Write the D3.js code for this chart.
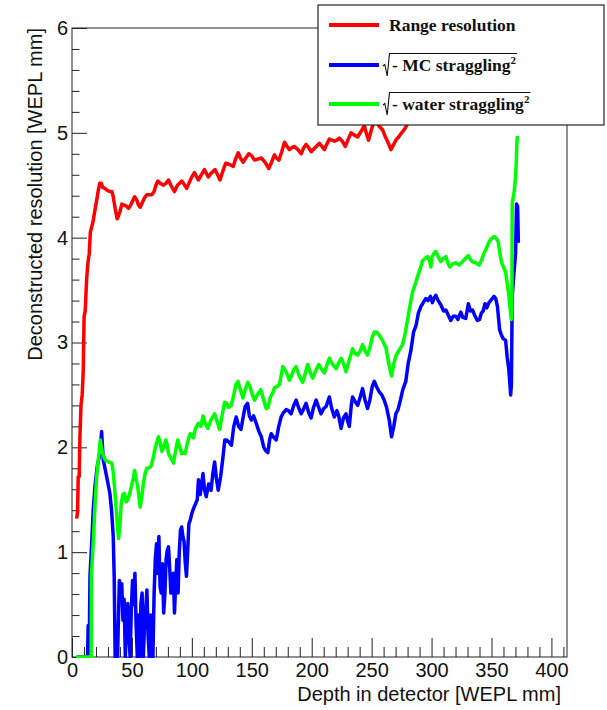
<!DOCTYPE html>
<html>
<head>
<meta charset="utf-8">
<script src="https://cdn.jsdelivr.net/npm/d3@7"></script>
<style>
  body { margin: 0; background: #fff; }
  svg { display: block; }
</style>
</head>
<body>
<svg id="chart" width="607" height="710"></svg>
<script>
// Depth (WEPL mm) vs. deconstructed resolution (WEPL mm)
const rangeResolution = [
  [3.9,1.32],[4.6,1.38],[5.2,1.72],[6,1.72],[6.6,2.1],[7.5,2.4],[8.5,2.5],[9.4,2.74],[10.1,3.25],[11,3.3],
  [12.2,3.6],[13.2,3.75],[14.4,3.85],[15.3,4.05],[16.4,4.1],[17.5,4.15],[19.1,4.26],[20.5,4.35],[21.9,4.45],
  [23.2,4.52],[24.4,4.52],[25.5,4.48],[27.5,4.47],[29.5,4.45],[31.6,4.44],[33.3,4.44],[34.4,4.39],[36,4.28],
  [37.7,4.18],[38.5,4.2],[40,4.25],[41.6,4.32],[43.5,4.31],[45.5,4.3],[47.2,4.28],[49,4.31],[50.5,4.35],
  [52.2,4.39],[54,4.36],[55.5,4.31],[56.9,4.29],[58.5,4.33],[60.5,4.38],[62.4,4.41],[64.5,4.41],[66.6,4.41],
  [68.5,4.44],[70,4.5],[71.6,4.54],[73.5,4.52],[76.3,4.5],[78.5,4.52],[80.5,4.55],[82.5,4.5],[85.5,4.44],
  [88,4.5],[91.6,4.54],[93.5,4.51],[95.7,4.47],[98,4.53],[100,4.58],[102.1,4.62],[104,4.58],[105.4,4.55],
  [108,4.6],[110.4,4.65],[113.7,4.58],[116.5,4.62],[119.3,4.65],[121.5,4.6],[123.5,4.55],[126,4.64],
  [128.2,4.71],[131,4.7],[134.5,4.68],[136.5,4.75],[138.7,4.81],[140.5,4.76],[142.9,4.72],[145,4.76],
  [147.5,4.8],[150,4.78],[152.3,4.74],[155,4.75],[157.9,4.76],[161,4.72],[164.2,4.66],[166.5,4.72],
  [168.9,4.79],[170.5,4.76],[172.6,4.74],[175,4.82],[177.3,4.91],[179.5,4.87],[181.4,4.84],[183.5,4.86],
  [185.6,4.87],[188.5,4.84],[191.2,4.8],[193,4.85],[195.3,4.89],[197.5,4.86],[199.5,4.82],[203,4.86],
  [206.4,4.9],[208.5,4.87],[210.6,4.84],[212.5,4.89],[214.7,4.94],[216.8,4.93],[218.9,4.92],[221,4.93],
  [223.1,4.95],[225.5,4.92],[228,4.87],[230.5,4.94],[232.8,5.0],[235.5,4.98],[238.3,4.96],[241,5.01],
  [243.9,5.07],[245.5,5.0],[247.4,4.93],[249.8,5.03],[252.2,5.11],[254,5.1],[256.5,5.06],[259.1,5.03],
  [261.5,4.96],[264,4.9],[266.1,4.84],[268,4.88],[270.2,4.93],[272.5,4.96],[275,5.0],[277.2,5.03],
  [279.2,5.07],[281.3,5.11],[283.5,5.16],[285.5,5.2]
];

const mcStraggling = [
  [4,0],[13,0],[13.5,0.3],[14.3,0],[15,0.77],[16.4,1.08],[17.7,1.4],[19.1,1.62],[21.1,1.82],[23.3,1.94],
  [24.7,2.15],[26.1,1.88],[28.9,1.72],[31.6,1.56],[33,1.4],[34.4,1.15],[35.2,0.77],[36,0],[37,0.3],[38,0],
  [39.5,0.73],[40.5,0.6],[41.5,0.7],[42.5,0.35],[43.5,0.55],[44.5,0],[45.5,0.3],[46.5,0.51],[47.5,0.2],
  [48.5,0],[49.5,0.45],[50.5,0.73],[51.5,0.5],[52.5,0.8],[53.5,0.3],[54.5,0],[55.5,0.4],[56.5,0],
  [57.5,0.51],[58.5,0.61],[59.5,0],[60.5,0.3],[61.5,0.45],[62.5,0.64],[63.5,0.2],[64.5,0],[65.5,0.4],
  [66.5,0],[67.5,0],[68.5,0.6],[69.5,0.93],[70.5,1.08],[71.5,0.8],[72.5,1.15],[73.5,0.67],[74.5,0.61],
  [75.5,0.89],[76.5,0.42],[77.5,0.6],[78.5,0.93],[79.5,1.02],[80.5,1.05],[81.5,0.85],[82.5,0.61],
  [83.5,0.67],[84.5,0.8],[85.5,0.42],[86.5,0.7],[87.5,0.93],[88.5,0.61],[89.5,1.0],[90.5,1.21],
  [91.5,1.24],[92.5,1.15],[93.5,1.1],[94.5,0.9],[95.5,0.77],[96.5,1.0],[97.5,1.27],[98.5,1.3],[100,1.37],
  [101.5,1.42],[103,1.46],[104.5,1.5],[105.5,1.69],[107,1.55],[109.3,1.75],[110.5,1.6],[112,1.53],
  [114,1.65],[116,1.59],[117.5,1.75],[119,1.86],[120.5,1.7],[122,1.59],[124,1.72],[126,1.91],[127.5,2.07],
  [129,2.07],[131,2.05],[133,2.02],[135,2.2],[137,2.29],[139,2.2],[141,2.17],[143,2.3],[144.5,2.39],
  [146.5,2.42],[148,2.3],[149.6,2.26],[151.5,2.3],[153.7,2.23],[156,2.15],[158,2.1],[160,2.0],[161.5,1.97],
  [163.4,1.95],[165,2.08],[166.2,2.13],[168,2.1],[170.4,2.07],[172.5,2.2],[174.5,2.29],[176.5,2.33],
  [178.7,2.36],[180.5,2.35],[182.8,2.32],[185,2.4],[187,2.45],[189,2.38],[191.2,2.32],[193,2.36],
  [195.3,2.42],[197.5,2.33],[199.5,2.28],[201.5,2.38],[203.7,2.45],[205.8,2.38],[207.8,2.32],[210,2.37],
  [212,2.39],[214.7,2.48],[216.5,2.38],[218.9,2.29],[221,2.35],[222.5,2.3],[224.5,2.18],[226.5,2.28],
  [228.6,2.32],[230,2.25],[231.4,2.2],[233,2.4],[234.1,2.48],[236,2.44],[238.3,2.4],[240.5,2.48],
  [242.4,2.56],[244.5,2.45],[246.6,2.37],[248.5,2.45],[250.5,2.58],[252.2,2.63],[254,2.58],[256.3,2.53],
  [258.5,2.5],[260.5,2.45],[262.5,2.38],[264.7,2.26],[266.6,2.1],[268.5,2.2],[270.2,2.32],[272,2.36],
  [274,2.45],[276,2.55],[278.5,2.63],[280.5,2.8],[282.7,2.92],[285,3.1],[287,3.16],[289,3.28],[291,3.34],
  [293,3.38],[295.2,3.42],[297,3.4],[299,3.44],[300.7,3.38],[302,3.42],[303.5,3.45],[305.5,3.4],
  [307.7,3.36],[310,3.3],[311.9,3.31],[314,3.26],[316,3.21],[318,3.25],[320.2,3.25],[322,3.22],
  [324.4,3.29],[326,3.24],[328.5,3.23],[330.7,3.37],[332.5,3.3],[334.1,3.31],[336,3.26],[338.2,3.21],
  [340,3.22],[341.5,3.28],[343,3.3],[344.6,3.37],[346,3.33],[347.9,3.38],[350,3.41],[352.1,3.44],
  [353.5,3.42],[355,3.34],[356.8,3.12],[358,3.08],[359.5,3.04],[361.8,3.02],[363.1,2.86],[364.5,2.74],
  [366,2.5],[366.6,2.6],[367.3,3.44],[368.7,3.66],[370.1,3.85],[370.9,4.32],[371.8,4.3],[372.4,3.95]
];

const waterStraggling = [
  [3.5,0],[16,0],[16.2,0.77],[18,1.15],[19.4,1.5],[20.5,1.7],[21.6,1.85],[22.6,1.95],[23.6,2.07],[24.5,2.0],
  [25.5,1.94],[27.7,1.88],[30.5,1.86],[33.3,1.85],[34.5,1.75],[35.5,1.62],[37.5,1.31],[38.8,1.13],[40,1.25],
  [41.1,1.47],[42.5,1.55],[43.8,1.56],[45.2,1.48],[46.6,1.5],[48,1.55],[49.4,1.62],[51,1.7],[52.2,1.78],
  [53.5,1.7],[54.9,1.62],[56.9,1.43],[58.2,1.52],[59.6,1.66],[61,1.75],[62.4,1.8],[64,1.8],[66,1.82],
  [67.7,1.9],[69.4,1.99],[70.8,2.05],[72.1,2.1],[73.5,2.05],[74.9,1.96],[76.5,2.0],[78.2,2.07],[79.5,2.02],
  [80.5,1.94],[82.5,1.9],[84.6,1.85],[86.5,1.97],[88.2,2.07],[90,2.0],[91.6,1.94],[93,1.95],[94.3,1.94],
  [96.5,2.05],[98.5,2.13],[100,2.12],[101.3,2.09],[103,2.18],[105.4,2.23],[107.5,2.2],[109.3,2.3],
  [111.5,2.22],[113.4,2.18],[115.5,2.25],[117,2.28],[119,2.32],[121,2.25],[123.2,2.17],[125.5,2.32],
  [127.4,2.43],[129,2.42],[130.5,2.38],[132.9,2.4],[135,2.5],[136.8,2.6],[138.4,2.63],[140.5,2.55],
  [142.6,2.47],[144.5,2.55],[146.7,2.62],[148.5,2.58],[150.5,2.5],[152.3,2.45],[154.5,2.5],[157.5,2.55],
  [160,2.45],[162,2.37],[163.5,2.38],[165.5,2.48],[167.5,2.52],[169,2.57],[171,2.58],[173.1,2.6],
  [175.9,2.77],[178.7,2.72],[181.4,2.64],[183,2.68],[185,2.74],[187,2.77],[189,2.7],[190.5,2.66],
  [192.5,2.62],[194.5,2.7],[196.7,2.79],[198.5,2.72],[200.8,2.66],[203,2.72],[205.8,2.79],[208,2.75],
  [210.6,2.71],[212.5,2.78],[214.7,2.85],[217,2.8],[220.3,2.75],[222.3,2.8],[224.5,2.85],[226.5,2.8],
  [228.6,2.72],[231,2.82],[234.1,2.94],[236,2.9],[238.3,2.88],[240.5,2.92],[242.4,2.98],[244.5,2.92],
  [246.6,2.88],[248.5,2.95],[250.5,3.05],[252.2,3.1],[254,3.1],[256.3,3.07],[259.1,3.02],[261.9,2.95],
  [263.3,2.86],[265,2.76],[266.6,2.68],[268.5,2.8],[270.2,2.87],[273,2.93],[275.8,2.98],[277.5,3.06],
  [279.9,3.21],[281.5,3.32],[284.1,3.48],[286.5,3.56],[288.3,3.63],[290.5,3.7],[292.4,3.78],[294.5,3.8],
  [296.6,3.82],[298.3,3.78],[299.4,3.72],[300.5,3.82],[302,3.85],[303.5,3.87],[305.5,3.82],[307.7,3.77],
  [309.8,3.8],[311.9,3.82],[313.5,3.76],[315.2,3.72],[317.5,3.75],[320.2,3.76],[323,3.74],[325.7,3.77],
  [328,3.8],[330.7,3.83],[332.5,3.79],[334.1,3.77],[337,3.76],[339.6,3.74],[341.5,3.78],[343.7,3.85],
  [345.8,3.9],[347.9,3.96],[350,3.99],[352.1,4.01],[353.6,4.0],[355.6,3.96],[357,3.85],[358.5,3.76],
  [360,3.72],[361.8,3.67],[363.3,3.55],[364.5,3.45],[365.5,3.33],[366.5,3.22],[367,3.25],[367.3,4.33],
  [368.7,4.42],[369.5,4.5],[370.1,4.6],[370.6,4.7],[371.2,4.9],[371.6,4.97]
];

const xTickValues = [0, 50, 100, 150, 200, 250, 300, 350, 400];
const yTickValues = [0, 1, 2, 3, 4, 5, 6];
const xTitle = "Depth in detector [WEPL mm]";
const yTitle = "Deconstructed resolution [WEPL mm]";
const seriesNames = ["Range resolution", "- MC straggling", "- water straggling"];
const seriesColors = ["#ff0000", "#0000ff", "#00ff00"];

const frame = { left: 72, top: 28, right: 567, bottom: 657 };
const svg = d3.select("#chart");

const x = d3.scaleLinear().domain([0, 413]).range([frame.left, frame.right]);
const y = d3.scaleLinear().domain([0, 6]).range([frame.bottom, frame.top]);

svg.append("defs").append("clipPath").attr("id", "plotClip")
  .append("rect")
  .attr("x", frame.left).attr("y", frame.top - 1)
  .attr("width", frame.right - frame.left).attr("height", frame.bottom - frame.top + 2);

// Minor ticks
const xMinor = d3.range(0, 411, 10).filter(v => v % 50 !== 0);
const yMinor = d3.range(0, 6.001, 0.2).map(v => +v.toFixed(1)).filter(v => Math.abs(v - Math.round(v)) > 1e-6);

const axisFont = "'Liberation Sans', Arial, Helvetica, sans-serif";

const gx = svg.append("g").attr("transform", `translate(0,${frame.bottom})`)
  .call(d3.axisBottom(x).tickValues(xTickValues).tickSize(-19).tickPadding(6).tickFormat(d3.format("d")));
svg.append("g").attr("transform", `translate(0,${frame.bottom})`)
  .call(d3.axisBottom(x).tickValues(xMinor).tickSize(-10).tickFormat(""))
  .call(g => g.select(".domain").remove());

const gy = svg.append("g").attr("transform", `translate(${frame.left},0)`)
  .call(d3.axisLeft(y).tickValues(yTickValues).tickSize(-15).tickPadding(4).tickFormat(d3.format("d")));
svg.append("g").attr("transform", `translate(${frame.left},0)`)
  .call(d3.axisLeft(y).tickValues(yMinor).tickSize(-7.5).tickFormat(""))
  .call(g => g.select(".domain").remove());

svg.selectAll(".domain").remove();
svg.selectAll(".tick line").attr("stroke", "#222").attr("stroke-width", 1);
svg.selectAll(".tick text").attr("font-family", axisFont).attr("font-size", 20).attr("fill", "#111");
gx.selectAll(".tick text").attr("dy", "0.71em");

// Frame
svg.append("rect")
  .attr("x", frame.left).attr("y", frame.top)
  .attr("width", frame.right - frame.left).attr("height", frame.bottom - frame.top)
  .attr("fill", "none").attr("stroke", "#222").attr("stroke-width", 1);

// Curves
const line = d3.line().x(d => x(d[0])).y(d => y(d[1]));
const curves = svg.append("g").attr("clip-path", "url(#plotClip)");
[rangeResolution, mcStraggling, waterStraggling].forEach((data, i) => {
  curves.append("path")
    .datum(data)
    .attr("d", line)
    .attr("fill", "none")
    .attr("stroke", seriesColors[i])
    .attr("stroke-width", 3.5)
    .attr("stroke-linejoin", "round");
});

// Axis titles
svg.append("text")
  .attr("x", frame.right - 6).attr("y", 701)
  .attr("text-anchor", "end")
  .attr("font-family", axisFont).attr("font-size", 20).attr("fill", "#111")
  .text(xTitle);

svg.append("text")
  .attr("transform", `translate(42,${frame.top}) rotate(-90)`)
  .attr("text-anchor", "end")
  .attr("font-family", axisFont).attr("font-size", 20).attr("fill", "#111")
  .text(yTitle);

// Legend
const legend = svg.append("g");
legend.append("rect")
  .attr("x", 318).attr("y", 5).attr("width", 286).attr("height", 120)
  .attr("fill", "#fff").attr("stroke", "#222").attr("stroke-width", 1.2);

const rowY = [25, 65, 104];
const serif = "'Liberation Serif', 'Times New Roman', Times, serif";
seriesNames.forEach((name, i) => {
  const yc = rowY[i];
  legend.append("line")
    .attr("x1", 329).attr("x2", 379).attr("y1", yc).attr("y2", yc)
    .attr("stroke", seriesColors[i]).attr("stroke-width", 4);
  if (i === 0) {
    legend.append("text")
      .attr("x", 389).attr("y", yc + 6)
      .attr("font-family", serif).attr("font-weight", "bold").attr("font-size", 17.5)
      .attr("fill", "#111")
      .text(name);
  } else {
    const t = legend.append("text")
      .attr("x", 392).attr("y", yc + 6)
      .attr("font-family", serif).attr("font-weight", "bold").attr("font-size", 17.5)
      .attr("fill", "#111");
    t.append("tspan").text(name);
    t.append("tspan").attr("font-size", 11).attr("dy", -7).text("2");
    const endX = 392 + t.node().getComputedTextLength() + 1;
    legend.append("path")
      .attr("d", `M383,${yc + 1} L384.8,${yc - 0.5} L387.2,${yc + 11} L389.5,${yc - 11.5} H${endX}`)
      .attr("fill", "none").attr("stroke", "#111").attr("stroke-width", 1.1);
  }
});
</script>
</body>
</html>
